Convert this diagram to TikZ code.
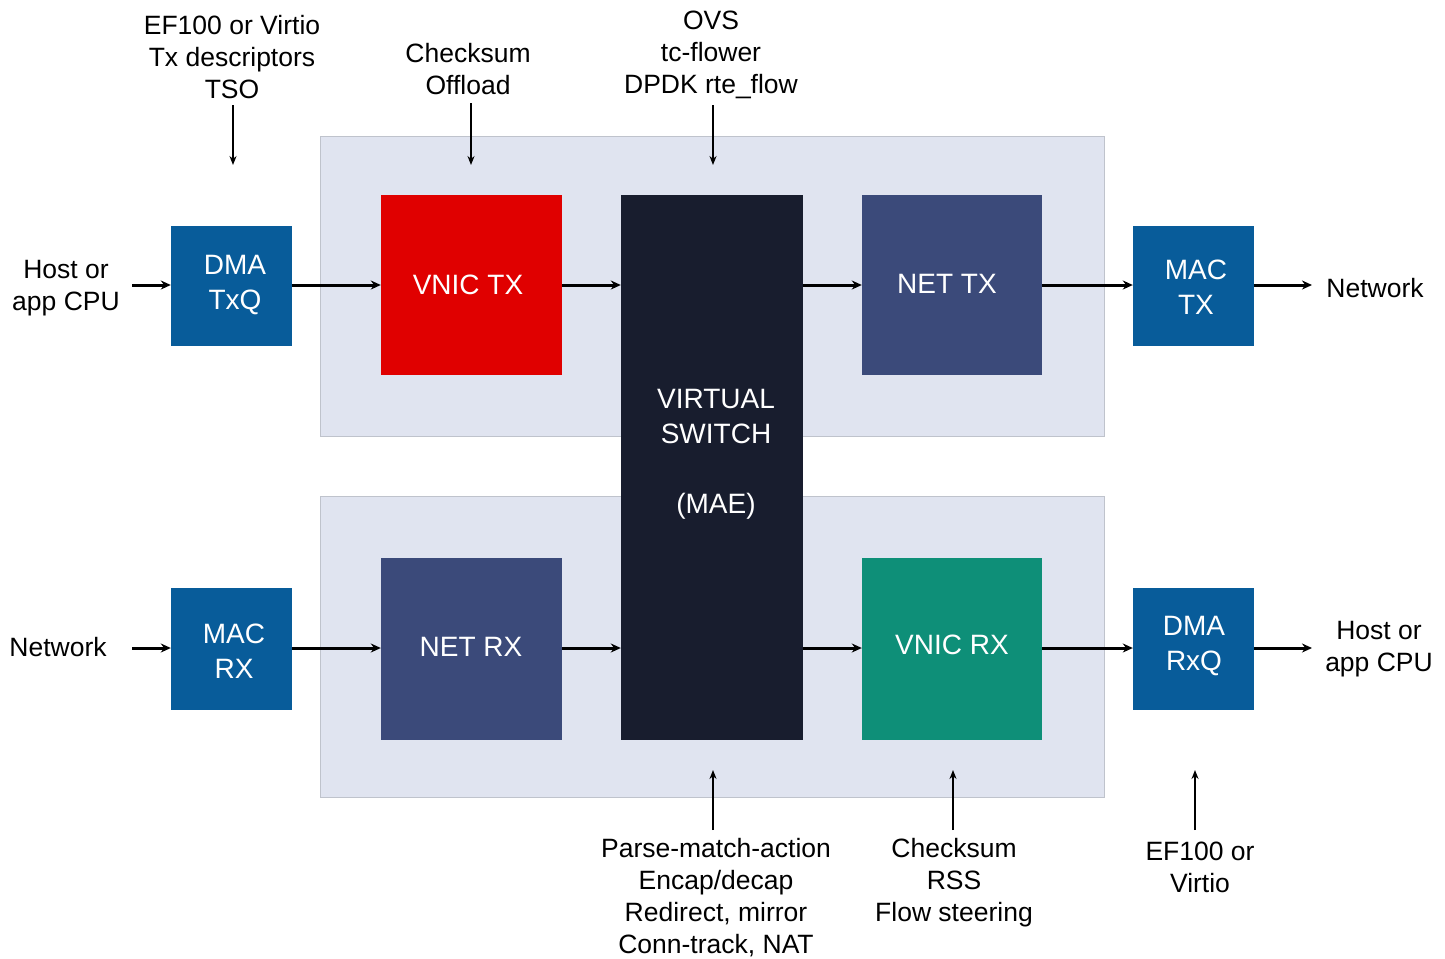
\documentclass[tikz,border=0pt]{standalone}
\usepackage{fontspec}
\setmainfont{Liberation Sans}
\usetikzlibrary{arrows.meta}
\definecolor{panelc}{HTML}{E0E4F0}
\definecolor{panelb}{HTML}{BFC3CC}
\definecolor{dmac}{HTML}{085C9A}
\definecolor{vtxc}{HTML}{E00000}
\definecolor{vswc}{HTML}{181D2E}
\definecolor{netc}{HTML}{3B4A7A}
\definecolor{vrxc}{HTML}{0E8F78}
\tikzset{
  panel/.style={fill=panelc,draw=panelb,line width=1pt},
  blk/.style={draw=none,text=white,align=center,inner sep=0pt,
    font=\fontsize{28}{35}\selectfont},
  lbl/.style={align=center,inner sep=6pt,text=black,
    font=\fontsize{26.5}{32}\selectfont},
  flow/.style={line width=3pt,-{Stealth[length=10pt,width=9pt]}},
  ann/.style={line width=1.4pt,-{Stealth[length=9pt,width=7pt]}},
}
\begin{document}
\begin{tikzpicture}[x=1pt,y=-1pt]
\useasboundingbox (0,0) rectangle (1445,958);
% panels
\path[panel] (320,136) rectangle (1104,436);
\path[panel] (320,496) rectangle (1104,797);
% blocks
\node[blk,fill=dmac,minimum width=121pt,minimum height=120pt] (dmatx) at (231.5,286) {};
\node[blk] (dmatxt) at (235,285) {DMA\\TxQ};
\node[blk,fill=vtxc,minimum width=181pt,minimum height=180pt] (vnictx) at (471.5,285) {};
\node[blk] (vnictxt) at (468,285) {VNIC TX};
\node[blk,fill=vswc,minimum width=182pt,minimum height=545pt] (vsw) at (712,467.5) {};
\node[blk] (vswt) at (716,454) {VIRTUAL\\SWITCH\\[35pt](MAE)};
\node[blk,fill=netc,minimum width=180pt,minimum height=180pt] (nettx) at (952,285) {};
\node[blk] (nettxt) at (947,284) {NET TX};
\node[blk,fill=dmac,minimum width=121pt,minimum height=120pt] (mactx) at (1193.5,286) {};
\node[blk] (mactxt) at (1196,287) {MAC\\TX};
\node[blk,fill=dmac,minimum width=121pt,minimum height=122pt] (macrx) at (231.5,649) {};
\node[blk] (macrxt) at (234,651) {MAC\\RX};
\node[blk,fill=netc,minimum width=181pt,minimum height=182pt] (netrx) at (471.5,649) {};
\node[blk] (netrxt) at (471,647) {NET RX};
\node[blk,fill=vrxc,minimum width=180pt,minimum height=182pt] (vnicrx) at (952,649) {};
\node[blk] (vnicrxt) at (952,645) {VNIC RX};
\node[blk,fill=dmac,minimum width=121pt,minimum height=122pt] (dmarx) at (1193.5,649) {};
\node[blk] (dmarxt) at (1194,646) {DMA\\RxQ};
% side labels
\node[lbl] (hostl) at (66,288) {Host or\\app CPU};
\node[lbl] (netr) at (1375,288) {Network};
\node[lbl] (netl) at (58,647) {Network};
\node[lbl] (hostr) at (1379,649) {Host or\\app CPU};
% top labels
\node[lbl] (t1) at (232,57) {EF100 or Virtio\\Tx descriptors\\TSO};
\node[lbl] (t2) at (468,69) {Checksum\\Offload};
\node[lbl] (t3) at (711,55) {OVS\\tc-flower\\DPDK rte\_flow};
% bottom labels
\node[lbl] (b1) at (716,898) {Parse-match-action\\Encap/decap\\Redirect, mirror\\Conn-track, NAT};
\node[lbl] (b2) at (954,883) {Checksum\\RSS\\Flow steering};
\node[lbl] (b3) at (1200,867) {EF100 or\\Virtio};
% flow arrows top
\draw[flow] (132,285) -- (dmatx.west |- 0,285);
\draw[flow] (dmatx.east |- 0,285) -- (vnictx.west |- 0,285);
\draw[flow] (vnictx.east |- 0,285) -- (vsw.west |- 0,285);
\draw[flow] (vsw.east |- 0,285) -- (nettx.west |- 0,285);
\draw[flow] (nettx.east |- 0,285) -- (mactx.west |- 0,285);
\draw[flow] (mactx.east |- 0,285) -- (1312,285);
% flow arrows bottom
\draw[flow] (132,648) -- (macrx.west |- 0,648);
\draw[flow] (macrx.east |- 0,648) -- (netrx.west |- 0,648);
\draw[flow] (netrx.east |- 0,648) -- (vsw.west |- 0,648);
\draw[flow] (vsw.east |- 0,648) -- (vnicrx.west |- 0,648);
\draw[flow] (vnicrx.east |- 0,648) -- (dmarx.west |- 0,648);
\draw[flow] (dmarx.east |- 0,648) -- (1312,648);
% annotation arrows
\draw[ann] (233,105) -- (233,165);
\draw[ann] (471,103) -- (471,165);
\draw[ann] (713,105) -- (713,165);
\draw[ann] (713,830) -- (713,770);
\draw[ann] (953,830) -- (953,770);
\draw[ann] (1195,830) -- (1195,770);
\end{tikzpicture}
\end{document}
